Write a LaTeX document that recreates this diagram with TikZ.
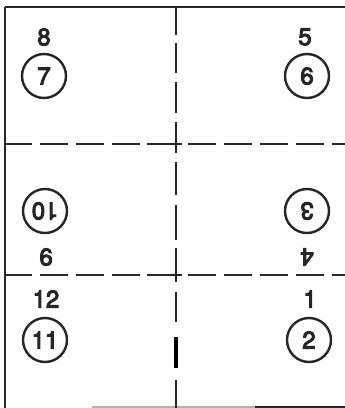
\documentclass[tikz,border=0pt]{standalone}
\usepackage{fontspec}
\newfontfamily\numfont{TeX Gyre Heros}
\newcommand\heavytext[1]{\special{pdf:literal direct 2 Tr 1.0 w}#1\special{pdf:literal direct 0 Tr}}
\begin{document}
\begin{tikzpicture}[x=1pt,y=-1pt,
  ink/.style={draw=black!85, line width=2.5pt},
  num/.style={font=\fontsize{24}{24}\numfont, text=black!85, inner sep=0pt},
  ring/.style={num, circle, draw=black!85, line width=2.4pt, minimum size=44pt}]
\useasboundingbox (0,0) rectangle (345,408);
\fill[white] (0,0) rectangle (345,408);
% frame
\draw[ink] (5,7) -- (345,7);
\draw[ink] (5,7) -- (5,408);
\draw[draw=black!30, line width=1.4pt] (92,407) -- (255,407);
\draw[ink] (255,407) -- (345,407);
% vertical dashed line
\foreach \a/\b in {7/35,43/73,82/113,122/153,162/195,205/240,248/282,292/322,380/408}
  \draw[ink] (176,\a) -- (176,\b);
\draw[line width=3.8pt, black] (176,337) -- (176,368);
% horizontal dashed lines
\foreach \yy in {144,275}
  \foreach \a/\b in {5/32,40/68,76/104,112/140,147/182,188/216,224/252,260/288,296/324,332/345}
    \draw[ink] (\a,\yy) -- (\b,\yy);
% labels and circles
\node[num] (l8) at (44,37) {\heavytext{8}};
\node[ring] (c7) at (44,76) {\heavytext{7}};
\node[num] (l5) at (305,37) {\heavytext{5}};
\node[ring] (c6) at (307,76) {\heavytext{6}};
\node[ring, rotate=180] (c10) at (45,211) {\heavytext{10}};
\node[num, rotate=180] (l9) at (46,257) {\heavytext{9}};
\node[ring, rotate=180] (c3) at (307,211) {\heavytext{3}};
\node[num, rotate=180] (l4) at (307,257) {\heavytext{4}};
\node[num] (l12) at (46,299) {\heavytext{12}};
\node[ring] (c11) at (45,340) {\heavytext{11}};
\node[num] (l1) at (310,299) {\heavytext{1}};
\node[ring] (c2) at (309,340) {\heavytext{2}};
\end{tikzpicture}
\end{document}
